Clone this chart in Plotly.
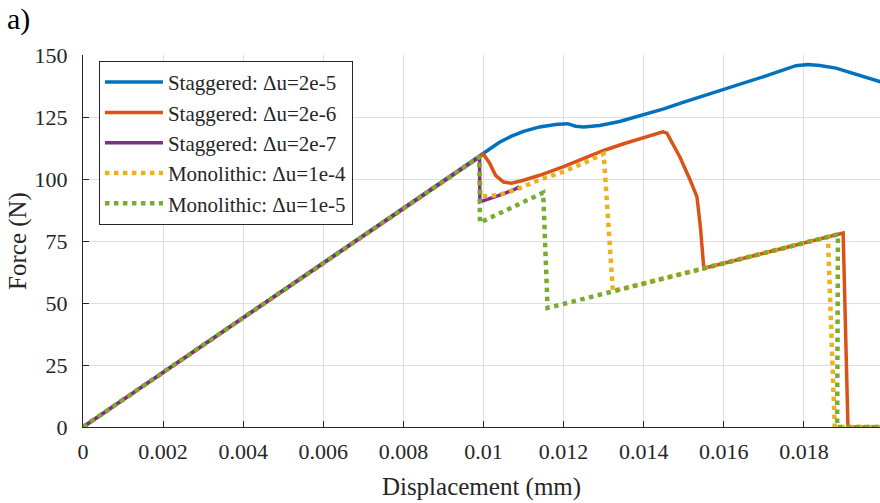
import plotly.graph_objects as go

# ---- data ----
x_s2e5 = [0, 0.0099, 0.0100, 0.0102, 0.0104, 0.0107, 0.0110, 0.0114, 0.0118, 0.0121, 0.0123,
          0.0125, 0.0129, 0.0134, 0.0140, 0.0145, 0.0150, 0.0155, 0.0160, 0.0165, 0.0170,
          0.0174, 0.0178, 0.0181, 0.0184, 0.0188, 0.0192, 0.0196, 0.0200]
f_s2e5 = [0, 109, 110.3, 112.5, 114.8, 117.3, 119.2, 121.0, 122.0, 122.3, 121.3,
          121.0, 121.6, 123.2, 125.8, 128.3, 131.0, 133.5, 136.0, 138.7, 141.3,
          143.5, 145.7, 146.2, 145.8, 144.7, 142.7, 140.5, 138.8]

x_s2e6 = [0, 0.0099, 0.0100, 0.01015, 0.0103, 0.0105, 0.0107, 0.0110, 0.0114, 0.0120, 0.0125,
          0.0130, 0.0135, 0.0140, 0.01448, 0.01458, 0.0149, 0.01516, 0.01533, 0.01542, 0.0155,
          0.0160, 0.0165, 0.0170, 0.0175, 0.0180, 0.0185, 0.0189, 0.01898, 0.0191, 0.0200]
f_s2e6 = [0, 109, 110, 106.5, 101.5, 98.8, 98.3, 99.5, 101.5, 105, 108.2,
          111.5, 114.2, 116.8, 119.0, 118.5, 109, 99.6, 92.8, 80, 64.0,
          66.0, 68.1, 70.1, 72.2, 74.2, 76.3, 77.9, 78.2, 0, 0]

x_s2e7 = [0, 0.0099, 0.00991, 0.0102, 0.0105, 0.0108, 0.0109]
f_s2e7 = [0, 109, 90.8, 92.3, 94.0, 96.0, 96.8]

x_m1e4 = [0, 0.0099, 0.00992, 0.0101, 0.01041, 0.01083, 0.0114, 0.0120, 0.01258, 0.0130,
          0.01323, 0.0140, 0.0150, 0.0160, 0.0170, 0.0180, 0.0186, 0.01877, 0.0200]
f_m1e4 = [0, 109, 93, 93.0, 93.7, 95.8, 99.7, 103, 107, 110.2,
          54.8, 57.9, 62.0, 66.0, 70.1, 74.2, 76.6, 0, 0]

x_m1e5 = [0, 0.0099, 0.00991, 0.0105, 0.0110, 0.01149, 0.0116, 0.0120, 0.0130, 0.0140,
          0.0150, 0.0160, 0.0170, 0.0180, 0.01885, 0.01883, 0.0200]
f_m1e5 = [0, 109, 82.4, 86.9, 90.7, 94.5, 48, 49.6, 53.7, 57.8,
          61.9, 66.0, 70.1, 74.2, 77.7, 0, 0]

x_ticks = [0, 0.002, 0.004, 0.006, 0.008, 0.01, 0.012, 0.014, 0.016, 0.018]
x_tick_labels = ["0", "0.002", "0.004", "0.006", "0.008", "0.01", "0.012", "0.014", "0.016", "0.018"]
y_ticks = [0, 25, 50, 75, 100, 125, 150]

series = [
    ("Staggered: \u0394u=2e-5", x_s2e5, f_s2e5, "#0072BD", "solid"),
    ("Staggered: \u0394u=2e-6", x_s2e6, f_s2e6, "#D95319", "solid"),
    ("Staggered: \u0394u=2e-7", x_s2e7, f_s2e7, "#7E2F8E", "solid"),
    ("Monolithic: \u0394u=1e-4", x_m1e4, f_m1e4, "#EDB120", "dot"),
    ("Monolithic: \u0394u=1e-5", x_m1e5, f_m1e5, "#77AC30", "dot"),
]

FONT = "Liberation Serif"
fig = go.Figure()
for name, xs, ys, col, dash in series:
    fig.add_trace(go.Scatter(
        x=xs, y=ys, mode="lines", name=name,
        line=dict(color=col, width=3.5 if dash == "solid" else 4.5, dash=dash),
    ))

axis_common = dict(
    showline=True, linecolor="#262626", linewidth=1,
    ticks="inside", ticklen=6, tickcolor="#262626", tickwidth=1,
    showgrid=True, gridcolor="#dedede", gridwidth=1,
    zeroline=False, mirror=False,
    tickfont=dict(family=FONT, size=22, color="#262626"),
)

fig.update_layout(
    width=880, height=503,
    margin=dict(l=83, r=0, t=55, b=76),
    plot_bgcolor="white", paper_bgcolor="white",
    font=dict(family=FONT, color="#262626"),
    xaxis=dict(range=[0, 0.0199], tickvals=x_ticks, ticktext=x_tick_labels,
               title=dict(text="Displacement (mm)", font=dict(family=FONT, size=25, color="#262626"),
                          standoff=14),
               ticklabelstandoff=5,
               **axis_common),
    yaxis=dict(range=[0, 150], tickvals=y_ticks,
               title=dict(text="Force (N)", font=dict(family=FONT, size=25, color="#262626"),
                          standoff=0),
               ticklabelstandoff=10,
               **axis_common),
    legend=dict(
        x=0.02, y=0.984, xanchor="left", yanchor="top",
        bgcolor="white", bordercolor="#262626", borderwidth=1,
        font=dict(family=FONT, size=21, color="#262626"),
        itemwidth=58, tracegroupgap=0,
    ),
    annotations=[dict(
        text="a)", xref="paper", yref="paper", x=-0.098, y=1.148,
        xanchor="left", yanchor="top", showarrow=False,
        font=dict(family=FONT, size=30, color="black"),
    )],
)

fig.write_html("out.html")
